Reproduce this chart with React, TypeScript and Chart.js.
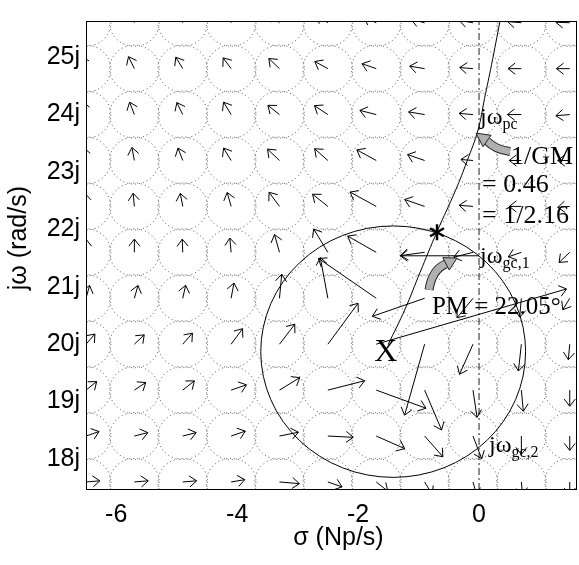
import { useEffect, useRef } from "react";
import { Chart, registerables } from "chart.js";
Chart.register(...registerables);

// ---- axes ----
const SIGMA_MIN = -6.5;
const SIGMA_MAX = 1.62;
const OMEGA_MIN = 17.46;
const OMEGA_MAX = 25.63;
const xTickStep = 2;
const yTickStep = 1;
const xTitle = "  σ (Np/s)";
const yTitle = "     jω (rad/s)";

// ---- vector-field grid (tail positions) ----
const gridSigma = [-6.5, -5.7, -4.9, -4.1, -3.3, -2.5, -1.7, -0.9, -0.1, 0.7, 1.5];
const gridOmega = [25.6, 24.8, 24.0, 23.2, 22.4, 21.6, 20.8, 20.0, 19.2, 18.4, 17.6];

// arrow direction (degrees) per row (top to bottom), per column (left to right)
const arrowAngle = [
  [110, 115, 120, 125, 135, 145, 155, 165, 170, 175, 178],
  [110, 115, 120, 125, 135, 150, 160, 170, 175, 180, 180],
  [105, 110, 115, 120, 140, 145, 165, 170, 175, 180, 185],
  [100, 100, 110, 120, 135, 137, 150, 160, 175, 180, 180],
  [95, 95, 100, 105, 125, 140, 150, 160, 175, 180, 185],
  [90, 90, 92, 95, 105, 120, 149, 188, 195, 200, 225],
  [75, 75, 78, 80, 85, 100, 144, 200, 232, 265, 240],
  [50, 45, 50, 55, 54, 55, 17, -105, -113, -96, -95],
  [40, 35, 40, 20, 33, 15, -21, -68, -82, -85, -90],
  [20, 15, 15, 20, 12, -3, -25, -50, -70, -90, -90],
  [5, 5, 5, 10, -5, -20, -40, -60, -75, -85, -90],
];
// arrow length (Np/s units)
const arrowLength = [
  [0.23, 0.23, 0.23, 0.23, 0.23, 0.23, 0.23, 0.23, 0.23, 0.23, 0.23],
  [0.23, 0.23, 0.23, 0.23, 0.25, 0.25, 0.25, 0.25, 0.22, 0.22, 0.22],
  [0.23, 0.23, 0.23, 0.25, 0.25, 0.27, 0.28, 0.27, 0.23, 0.23, 0.23],
  [0.23, 0.23, 0.23, 0.25, 0.28, 0.3, 0.37, 0.3, 0.2, 0.2, 0.2],
  [0.23, 0.23, 0.23, 0.25, 0.3, 0.33, 0.5, 0.35, 0.23, 0.2, 0.2],
  [0.23, 0.23, 0.23, 0.25, 0.32, 0.47, 0.55, 0.4, 0.33, 0.23, 0.25],
  [0.23, 0.23, 0.23, 0.27, 0.42, 0.72, 1.18, 0.92, 0.43, 0.33, 0.23],
  [0.23, 0.23, 0.25, 0.33, 0.43, 0.87, 3.29, 1.28, 0.57, 0.47, 0.27],
  [0.23, 0.23, 0.25, 0.27, 0.4, 0.63, 0.88, 0.75, 0.48, 0.37, 0.28],
  [0.23, 0.23, 0.23, 0.25, 0.32, 0.42, 0.52, 0.47, 0.42, 0.32, 0.25],
  [0.23, 0.23, 0.23, 0.23, 0.33, 0.25, 0.25, 0.25, 0.25, 0.23, 0.23],
];
// extra arrow from the gain-crossover point jω_gc,1
const extraArrowFrom = [0, 21.54];
const extraArrowTo = [-1.3, 21.54];

// ---- locus curve ----
const locusSigma = [0.347, 0.207, 0.091, -0.017, -0.198, -0.389, -0.695, -0.976, -1.224, -1.505];
const locusOmega = [25.63, 24.87, 24.28, 23.73, 23.19, 22.68, 21.96, 21.25, 20.61, 19.99];

// ---- |L| = 1 circle ----
const circleCenter = [-1.42, 19.87];
const circleRadius = 2.19;
const dotCircleRadius = 0.41;

// ---- marks ----
const asteriskAt = [-0.695, 21.95];

const fontSerif = "'Liberation Serif', 'Times New Roman', serif";
const fontSans = "'Liberation Sans', Arial, sans-serif";

function drawArrow(ctx: CanvasRenderingContext2D, x1: number, y1: number, x2: number, y2: number) {
  const dx = x2 - x1, dy = y2 - y1;
  if (Math.hypot(dx, dy) < 0.5) return;
  const a = Math.atan2(dy, dx);
  const hl = 9, ha = (38 * Math.PI) / 180;
  ctx.beginPath();
  ctx.moveTo(x1, y1);
  ctx.lineTo(x2, y2);
  ctx.moveTo(x2 - hl * Math.cos(a - ha), y2 - hl * Math.sin(a - ha));
  ctx.lineTo(x2, y2);
  ctx.lineTo(x2 - hl * Math.cos(a + ha), y2 - hl * Math.sin(a + ha));
  ctx.stroke();
}

function drawSubText(ctx: CanvasRenderingContext2D, x: number, y: number, main: string, sub: string, mainSize: number, subSize: number, drop: number) {
  ctx.font = `${mainSize}px ${fontSerif}`;
  ctx.textAlign = "left";
  ctx.textBaseline = "alphabetic";
  ctx.fillText(main, x, y);
  const w = ctx.measureText(main).width;
  ctx.font = `${subSize}px ${fontSerif}`;
  ctx.fillText(sub, x + w, y + drop);
}

function grayArrow(ctx: CanvasRenderingContext2D, t: number[], c: number[], b: number[], tip: number[]) {
  ctx.save();
  ctx.lineCap = "butt";
  ctx.beginPath();
  ctx.moveTo(t[0], t[1]);
  ctx.quadraticCurveTo(c[0], c[1], b[0], b[1]);
  ctx.strokeStyle = "#222";
  ctx.lineWidth = 9;
  ctx.stroke();
  ctx.strokeStyle = "#b0b0b0";
  ctx.lineWidth = 7;
  ctx.stroke();
  const a = Math.atan2(tip[1] - b[1], tip[0] - b[0]);
  const hw = 7;
  ctx.beginPath();
  ctx.moveTo(tip[0], tip[1]);
  ctx.lineTo(b[0] + hw * Math.cos(a + Math.PI / 2), b[1] + hw * Math.sin(a + Math.PI / 2));
  ctx.lineTo(b[0] + hw * Math.cos(a - Math.PI / 2), b[1] + hw * Math.sin(a - Math.PI / 2));
  ctx.closePath();
  ctx.fillStyle = "#b0b0b0";
  ctx.fill();
  ctx.strokeStyle = "#222";
  ctx.lineWidth = 1;
  ctx.stroke();
  ctx.restore();
}

const decorPlugin = {
  id: "decor",
  beforeDatasetsDraw(chart: any) {
    const { ctx, chartArea: ca, scales } = chart;
    const X = (v: number) => scales.x.getPixelForValue(v);
    const Y = (v: number) => scales.y.getPixelForValue(v);
    ctx.save();
    ctx.beginPath();
    ctx.rect(ca.left, ca.top, ca.right - ca.left, ca.bottom - ca.top);
    ctx.clip();
    // dotted circles
    ctx.strokeStyle = "#444";
    ctx.lineWidth = 1;
    ctx.setLineDash([1, 3]);
    const rx = Math.abs(X(dotCircleRadius) - X(0));
    const ry = Math.abs(Y(0) - Y(dotCircleRadius));
    for (const w of gridOmega) {
      for (const s of gridSigma) {
        ctx.beginPath();
        ctx.ellipse(X(s), Y(w), rx, ry, 0, 0, Math.PI * 2);
        ctx.stroke();
      }
    }
    ctx.setLineDash([]);
    // |L|=1 circle
    ctx.strokeStyle = "#000";
    ctx.beginPath();
    ctx.ellipse(
      X(circleCenter[0]),
      Y(circleCenter[1]),
      Math.abs(X(circleRadius) - X(0)),
      Math.abs(Y(0) - Y(circleRadius)),
      0, 0, Math.PI * 2
    );
    ctx.stroke();
    ctx.restore();
  },
  afterDatasetsDraw(chart: any) {
    const { ctx, chartArea: ca, scales } = chart;
    const X = (v: number) => scales.x.getPixelForValue(v);
    const Y = (v: number) => scales.y.getPixelForValue(v);
    ctx.save();
    ctx.beginPath();
    ctx.rect(ca.left, ca.top, ca.right - ca.left, ca.bottom - ca.top);
    ctx.clip();
    ctx.strokeStyle = "#000";
    ctx.lineWidth = 1;
    gridOmega.forEach((w, r) => {
      gridSigma.forEach((s, c) => {
        const a = (arrowAngle[r][c] * Math.PI) / 180;
        const L = arrowLength[r][c];
        drawArrow(ctx, X(s), Y(w), X(s + L * Math.cos(a)), Y(w + L * Math.sin(a)));
      });
    });
    drawArrow(ctx, X(extraArrowFrom[0]), Y(extraArrowFrom[1]), X(extraArrowTo[0]), Y(extraArrowTo[1]));
    ctx.restore();

    ctx.save();
    // gray pointer arrows
    grayArrow(ctx, [X(0.513), Y(23.356)], [X(0.265), Y(23.39)], [X(0.132), Y(23.54)], [X(-0.05), Y(23.676)]);
    grayArrow(ctx, [X(-0.827), Y(20.947)], [X(-0.777), Y(21.3)], [X(-0.546), Y(21.4)], [X(-0.364), Y(21.5)]);

    // asterisk
    const ax = X(asteriskAt[0]), ay = Y(asteriskAt[1]);
    ctx.strokeStyle = "#000";
    ctx.lineWidth = 2.5;
    for (let k = 0; k < 3; k++) {
      const t = (Math.PI / 2) + (k * Math.PI) / 3;
      ctx.beginPath();
      ctx.moveTo(ax - 8 * Math.cos(t), ay - 8 * Math.sin(t));
      ctx.lineTo(ax + 8 * Math.cos(t), ay + 8 * Math.sin(t));
      ctx.stroke();
    }

    // texts
    ctx.fillStyle = "#000";
    drawSubText(ctx, X(0.017), Y(23.83), "jω", "pc", 24, 16, 5);
    drawSubText(ctx, X(0.017), Y(21.42), "jω", "gc,1", 24, 16, 5);
    drawSubText(ctx, X(0.165), Y(18.13), "jω", "gc,2", 24, 16, 5);
    ctx.font = `26px ${fontSerif}`;
    ctx.textAlign = "left";
    ctx.textBaseline = "alphabetic";
    ctx.fillText("1/GM", X(0.53), Y(23.14));
    ctx.fillText("= 0.46", X(0.05), Y(22.65));
    ctx.fillText("= 1/2.16", X(0.05), Y(22.11));
    ctx.font = `25px ${fontSerif}`;
    ctx.fillText("PM = 22.05°", X(-0.78), Y(20.53));
    ctx.font = `32px ${fontSerif}`;
    ctx.textAlign = "center";
    ctx.fillText("X", X(-1.54), Y(19.7));

    // box
    ctx.strokeStyle = "#000";
    ctx.lineWidth = 1;
    ctx.strokeRect(ca.left + 0.5, ca.top + 0.5, ca.right - ca.left - 1, ca.bottom - ca.top - 1);
    ctx.restore();
  },
};

export default function App() {
  const ref = useRef<HTMLCanvasElement>(null);
  useEffect(() => {
    document.body.style.margin = "0";
    const canvas = ref.current!;
    const chart = new Chart(canvas, {
      type: "scatter",
      data: {
        datasets: [
          {
            data: locusSigma.map((s, i) => ({ x: s, y: locusOmega[i] })),
            showLine: true,
            borderColor: "#000",
            borderWidth: 1,
            pointRadius: 0,
            tension: 0.4,
          },
          {
            data: [
              { x: 0, y: OMEGA_MIN },
              { x: 0, y: OMEGA_MAX },
            ],
            showLine: true,
            borderColor: "#222",
            borderWidth: 1,
            borderDash: [7, 3, 2, 3],
            pointRadius: 0,
          },
        ],
      },
      options: {
        responsive: false,
        animation: false,
        devicePixelRatio: 1,
        layout: { padding: { top: 5, right: 2, left: 0, bottom: 0 } },
        plugins: { legend: { display: false }, tooltip: { enabled: false } },
        scales: {
          x: {
            type: "linear",
            min: SIGMA_MIN,
            max: SIGMA_MAX,
            afterFit: (s: any) => {
              s.height = 75;
            },
            grid: { display: false, drawTicks: false },
            border: { display: false },
            ticks: {
              stepSize: xTickStep,
              includeBounds: false,
              padding: 10,
              color: "#000",
              font: { family: fontSans, size: 25 },
            },
            title: {
              display: true,
              text: xTitle,
              color: "#000",
              font: { family: fontSans, size: 25 },
              padding: { top: 0, bottom: 12 },
            },
          },
          y: {
            type: "linear",
            min: OMEGA_MIN,
            max: OMEGA_MAX,
            afterFit: (s: any) => {
              s.width = 86;
            },
            grid: { display: false, drawTicks: false },
            border: { display: false },
            ticks: {
              stepSize: yTickStep,
              includeBounds: false,
              padding: 6,
              color: "#000",
              font: { family: fontSans, size: 25 },
              callback: (v: any) => `${v}j`,
            },
            title: {
              display: true,
              text: yTitle,
              color: "#000",
              font: { family: fontSans, size: 25 },
              padding: { top: 4, bottom: 0 },
            },
          },
        },
      },
      plugins: [decorPlugin],
    });
    return () => chart.destroy();
  }, []);
  return (
    <div style={{ width: 579, height: 565 }}>
      <canvas ref={ref} width={579} height={565} style={{ display: "block" }} />
    </div>
  );
}
